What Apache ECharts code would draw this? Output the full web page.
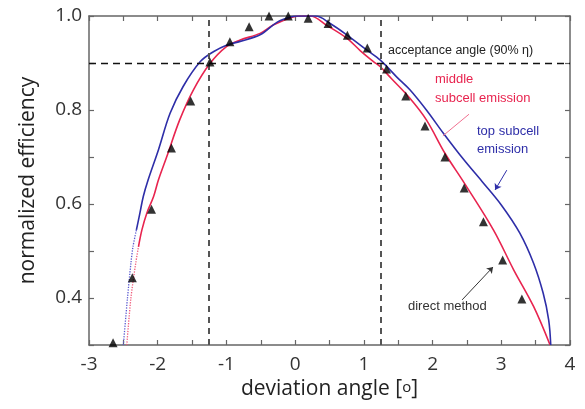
<!DOCTYPE html>
<html><head><meta charset="utf-8">
<script src="https://cdn.jsdelivr.net/npm/echarts@6/dist/echarts.min.js"></script>
<style>html,body{margin:0;padding:0;background:#fff}#c{width:585px;height:409px}</style>
</head><body><div id="c"></div>
<script>
// deviation angle [deg], normalized efficiency
const directMethod = [[-2.65,0.305],[-2.37,0.443],[-2.09,0.589],[-1.80,0.719],[-1.52,0.819],[-1.24,0.902],
  [-0.95,0.945],[-0.67,0.977],[-0.38,1.0],[-0.10,1.0],[0.19,0.995],[0.48,0.984],[0.76,0.959],[1.05,0.932],
  [1.33,0.887],[1.61,0.830],[1.89,0.766],[2.18,0.700],[2.46,0.634],[2.74,0.562],[3.02,0.481],[3.30,0.398]];
const topTail = [[-2.50,0.30],[-2.44,0.40],[-2.39,0.474],[-2.36,0.509],[-2.31,0.545]];
const topSubcell = [[-2.31,0.545],[-2.26,0.58],[-2.21,0.616],[-2.14,0.651],[-1.99,0.715],[-1.82,0.793],
  [-1.63,0.850],[-1.38,0.903],[-1.19,0.924],[-1.00,0.938],[-0.80,0.946],[-0.51,0.960],[-0.26,0.987],
  [-0.07,0.998],[0.05,1.0],[0.30,1.0],[0.51,0.984],[0.75,0.960],[1.04,0.928],[1.24,0.906],[1.48,0.870],
  [1.67,0.843],[1.91,0.800],[2.16,0.750],[2.45,0.695],[2.72,0.648],[3.00,0.598],[3.27,0.538],[3.47,0.474],
  [3.61,0.410],[3.69,0.353],[3.72,0.30]];
const midTail = [[-2.45,0.30],[-2.39,0.40],[-2.32,0.474],[-2.28,0.509]];
const middleSubcell = [[-2.28,0.509],[-2.23,0.545],[-2.16,0.58],[-2.06,0.616],[-1.99,0.651],[-1.87,0.700],
  [-1.68,0.779],[-1.48,0.843],[-1.24,0.899],[-1.00,0.935],[-0.80,0.949],[-0.51,0.963],[-0.32,0.981],
  [-0.03,0.998],[0.10,1.0],[0.22,1.0],[0.46,0.980],[0.75,0.953],[0.95,0.926],[1.14,0.903],[1.24,0.892],
  [1.40,0.867],[1.67,0.825],[1.91,0.779],[2.18,0.708],[2.46,0.645],[2.885,0.545],[3.18,0.460],[3.47,0.382],
  [3.71,0.30]];
const acceptance = { eff: 0.9, angles: [-1.25, 1.25] };
const xTicks = ['-3','-2','-1','0','1','2','3','4'];
const yTicks = ['0.4','0.6','0.8','1.0'];
const redPointer = [[2.15,0.745],[2.53,0.791]];
const bluePointer = [[3.08,0.672],[2.91,0.630]];
const blackPointer = [[2.43,0.396],[2.88,0.466]];

const BLUE = '#2e2ea8', RED = '#e8244f', AX = '#666';
const FONT = 'Open Sans';
const chart = echarts.init(document.getElementById('c'));
const axLine = {show:true, onZero:false, lineStyle:{color:AX, width:1.5}};
const tick = {show:true, inside:true, length:5, lineStyle:{color:AX, width:1.2}};
chart.setOption({
  animation:false,
  grid:{left:89, right:15, top:16, bottom:64},
  xAxis:[{
    type:'value', min:-3, max:4, interval:0.5, position:'bottom',
    axisLine:axLine, axisTick:tick, splitLine:{show:false},
    axisLabel:{fontFamily:FONT, fontSize:19, color:'#333', margin:10,
      formatter:v => (Math.abs(v - Math.round(v)) < 1e-6 && xTicks.includes(String(Math.round(v)))) ? String(Math.round(v)) : ''},
    name:'deviation angle [{s|o}]', nameLocation:'middle', nameGap:34,
    nameTextStyle:{fontFamily:FONT, fontSize:21, color:'#222', rich:{s:{fontFamily:FONT, fontSize:15, color:'#222', padding:[0,0,4,0]}}}
  },{
    type:'value', min:-3, max:4, interval:0.5, position:'top',
    axisLine:axLine, axisTick:tick, axisLabel:{show:false}, splitLine:{show:false}
  }],
  yAxis:[{
    type:'value', min:0.3, max:1.0, interval:0.1, position:'left',
    axisLine:axLine, axisTick:tick, splitLine:{show:false},
    axisLabel:{fontFamily:FONT, fontSize:19, color:'#333', margin:7,
      formatter:v => { const s = v.toFixed(1); return yTicks.includes(s) ? s : ''; }},
    name:'normalized efficiency', nameLocation:'middle', nameGap:50,
    nameTextStyle:{fontFamily:FONT, fontSize:21, color:'#222'}
  },{
    type:'value', min:0.3, max:1.0, interval:0.1, position:'right',
    axisLine:axLine, axisTick:tick, axisLabel:{show:false}, splitLine:{show:false}
  }],
  series:[
    {type:'line', data:topTail, symbol:'none', smooth:0.3, lineStyle:{color:'#5a5ad0', width:1.3, type:'dotted'}, z:3},
    {type:'line', data:midTail, symbol:'none', smooth:0.3, lineStyle:{color:'#f05a7a', width:1.3, type:'dotted'}, z:3},
    {type:'line', data:middleSubcell, symbol:'none', smooth:0.35, lineStyle:{color:RED, width:1.6}, z:3,
      markLine:{silent:true, symbol:'none', animation:false, label:{show:false},
        data:[
          [{coord:[-3, acceptance.eff], lineStyle:{color:'#111', width:1.4, type:[7,5]}}, {coord:[4, acceptance.eff]}],
          [{coord:[acceptance.angles[0],0.3], lineStyle:{color:'#555', width:2, type:[6,5]}}, {coord:[acceptance.angles[0],1.0]}],
          [{coord:[acceptance.angles[1],0.3], lineStyle:{color:'#555', width:2, type:[6,5]}}, {coord:[acceptance.angles[1],1.0]}],
          [{coord:redPointer[0], lineStyle:{color:'#f07090', width:1, type:'solid'}}, {coord:redPointer[1]}]
        ]}},
    {type:'line', data:topSubcell, symbol:'none', smooth:0.35, lineStyle:{color:BLUE, width:1.6}, z:4,
      markLine:{silent:true, animation:false, label:{show:false}, symbol:['none','arrow'], symbolSize:6,
        data:[
          [{coord:bluePointer[0], lineStyle:{color:BLUE, width:1, type:'solid'}, itemStyle:{color:BLUE}}, {coord:bluePointer[1]}],
          [{coord:blackPointer[0], lineStyle:{color:'#333', width:1, type:'solid'}, itemStyle:{color:'#333'}}, {coord:blackPointer[1]}]
        ]}},
    {type:'scatter', data:directMethod, symbol:'triangle', symbolSize:9, itemStyle:{color:'#000'}, z:5, clip:false}
  ],
  graphic:[
    {type:'text', left:388, top:44, style:{text:'acceptance angle (90% η)', font:'12.5px "Liberation Sans"', fill:'#222'}},
    {type:'text', left:435, top:70, style:{text:'middle\nsubcell emission', font:'13px "Liberation Sans"', fill:RED, lineHeight:19}},
    {type:'text', left:477, top:122, style:{text:'top subcell\nemission', font:'13px "Liberation Sans"', fill:BLUE, lineHeight:18}},
    {type:'text', left:408, top:300, style:{text:'direct method', font:'13px "Liberation Sans"', fill:'#333'}}
  ]
});
</script></body></html>
